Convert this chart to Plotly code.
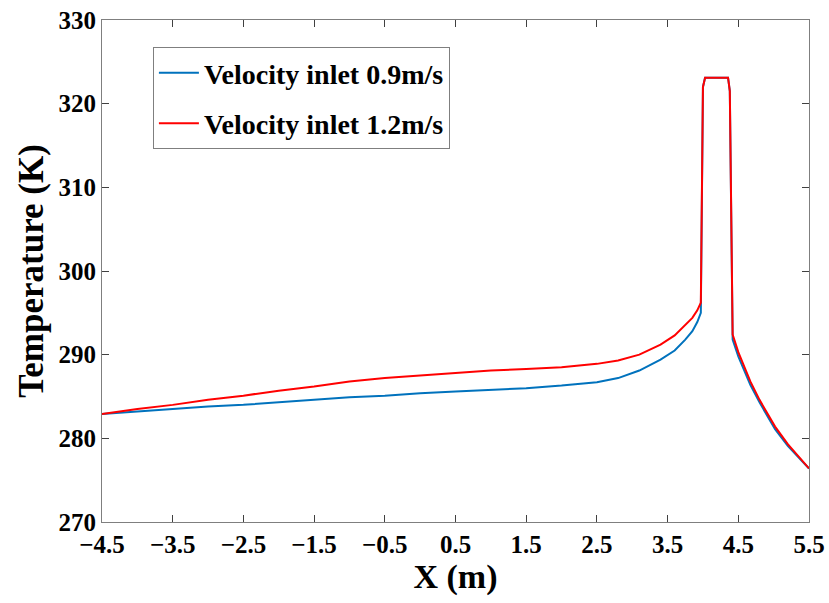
import plotly.graph_objects as go

x_blue = [-4.5, -4.0, -3.5, -3.0, -2.5, -2.0, -1.5, -1.0, -0.5, 0.0, 0.5, 1.0, 1.5, 2.0, 2.5,
          2.8, 3.1, 3.4, 3.6, 3.75, 3.85, 3.92, 3.97, 4.00, 4.03, 4.355, 4.38, 4.42,
          4.5, 4.67, 4.8, 5.02, 5.2, 5.5]
t_blue = [282.9, 283.2, 283.5, 283.8, 284.0, 284.3, 284.6, 284.9, 285.1, 285.4, 285.6, 285.8, 286.0, 286.3, 286.7,
          287.2, 288.1, 289.4, 290.5, 291.8, 292.8, 293.9, 295.0, 322.0, 323.1, 323.1, 321.5, 291.8,
          289.8, 286.4, 284.3, 281.1, 279.1, 276.4]

x_red = [-4.5, -4.0, -3.5, -3.0, -2.5, -2.0, -1.5, -1.0, -0.5, 0.0, 0.5, 1.0, 1.5, 2.0, 2.5,
         2.8, 3.1, 3.4, 3.6, 3.75, 3.85, 3.92, 3.97, 4.00, 4.03, 4.355, 4.38, 4.42,
         4.5, 4.67, 4.8, 5.02, 5.2, 5.5]
t_red = [282.9, 283.5, 284.0, 284.6, 285.1, 285.7, 286.2, 286.8, 287.2, 287.5, 287.8, 288.1, 288.3, 288.5, 288.9,
         289.3, 290.0, 291.2, 292.3, 293.5, 294.4, 295.3, 296.2, 322.0, 323.1, 323.1, 321.5, 292.4,
         290.3, 286.8, 284.6, 281.4, 279.3, 276.4]

x_ticks = [-4.5, -3.5, -2.5, -1.5, -0.5, 0.5, 1.5, 2.5, 3.5, 4.5, 5.5]
x_tick_labels = ["\u22124.5", "\u22123.5", "\u22122.5", "\u22121.5", "\u22120.5", "0.5", "1.5", "2.5", "3.5", "4.5", "5.5"]
y_ticks = [270, 280, 290, 300, 310, 320, 330]

names = ["Velocity inlet 0.9m/s", "Velocity inlet 1.2m/s"]
colors = ["#0072BD", "#FF0000"]

FONT = "Liberation Serif, Times New Roman, serif"

fig = go.Figure()
fig.add_trace(go.Scatter(x=x_blue, y=t_blue, mode="lines", name=names[0], legendgroup="a",
                         line=dict(color=colors[0], width=2)))
fig.add_trace(go.Scatter(x=x_red, y=t_red, mode="lines", name=names[1], legendgroup="b",
                         line=dict(color=colors[1], width=2)))

axis_common = dict(
    showgrid=False, zeroline=False, showline=True, linecolor="#7f7f7f", linewidth=1,
    mirror="ticks", ticks="inside", ticklen=7, tickcolor="#404040", tickwidth=1,
    automargin=False, ticklabeloverflow="allow",
    tickfont=dict(family=FONT, size=25, color="black", weight="bold"),
)

fig.update_layout(
    width=829, height=603,
    margin=dict(l=102, r=20, t=20, b=81),
    paper_bgcolor="white", plot_bgcolor="white",
    font=dict(family=FONT, color="black", weight="bold"),
    xaxis=dict(range=[-4.5, 5.5], tickvals=x_ticks, ticktext=x_tick_labels,
               title=dict(text="X (m)", font=dict(family=FONT, size=34, weight="bold"), standoff=2),
               **axis_common),
    yaxis=dict(range=[270, 330], tickvals=y_ticks,
               title=dict(text="Temperature (K)", font=dict(family=FONT, size=35, weight="bold"), standoff=4),
               **axis_common),
    legend=dict(x=0.072, y=0.946, xanchor="left", yanchor="top",
                bgcolor="white", bordercolor="#7f7f7f", borderwidth=1,
                font=dict(family=FONT, size=28, color="black", weight="bold"),
                traceorder="grouped", tracegroupgap=11, itemwidth=40),
    showlegend=True,
)

fig.write_html("out.html", config={"displayModeBar": False},
               post_script="document.body.style.margin='0';document.body.style.overflow='hidden';")
